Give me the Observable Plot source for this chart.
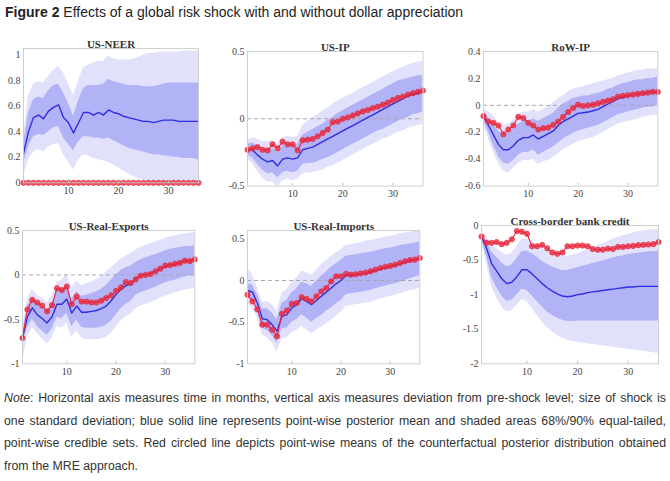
<!DOCTYPE html>
<html>
<head>
<meta charset="utf-8">
<script src="https://cdn.jsdelivr.net/npm/d3@7"></script>
<script src="https://cdn.jsdelivr.net/npm/@observablehq/plot@0.6"></script>
<style>
  html, body { margin: 0; padding: 0; background: #fff; }
  #wrap { position: relative; width: 670px; height: 481px; overflow: hidden; background: #fff; }
  #title { position: absolute; left: 5px; top: 2px; font-family: "Liberation Sans", Arial, sans-serif; font-size: 14px; line-height: 20px; color: #222; white-space: nowrap; }
  #note { position: absolute; left: 4px; top: 387px; width: 662px; font-family: "Liberation Sans", Arial, sans-serif; font-size: 12.3px; line-height: 22.6px; color: #333; }
  #note div { white-space: nowrap; text-align: justify; text-align-last: justify; }
  #note div.last { text-align-last: left; }
  #note span.lab { font-style: italic; }
  .panel { position: absolute; }
</style>
</head>
<body>
<div id="wrap">
  <div id="title"><b>Figure 2</b> Effects of a global risk shock with and without dollar appreciation</div>
  <div id="note">
    <div><span class="lab">Note</span>: Horizontal axis measures time in months, vertical axis measures deviation from pre-shock level; size of shock is</div>
    <div>one standard deviation; blue solid line represents point-wise posterior mean and shaded areas 68%/90% equal-tailed,</div>
    <div>point-wise credible sets. Red circled line depicts point-wise means of the counterfactual posterior distribution obtained</div>
    <div class="last">from the MRE approach.</div>
  </div>
</div>
<script>
const months = [1,2,3,4,5,6,7,8,9,10,11,12,13,14,15,16,17,18,19,20,21,22,23,24,25,26,27,28,29,30,31,32,33,34,35,36];

// US-NEER
const neerMean = [0.23,0.40,0.51,0.53,0.50,0.56,0.59,0.61,0.51,0.47,0.39,0.47,0.55,0.55,0.53,0.55,0.53,0.57,0.55,0.54,0.52,0.51,0.50,0.49,0.48,0.48,0.47,0.48,0.49,0.49,0.49,0.48,0.48,0.48,0.48,0.48];
const neerHi68 = [0.30,0.55,0.65,0.67,0.66,0.72,0.76,0.77,0.70,0.62,0.52,0.64,0.74,0.76,0.76,0.76,0.77,0.81,0.79,0.78,0.77,0.76,0.76,0.76,0.75,0.75,0.75,0.76,0.77,0.78,0.78,0.78,0.78,0.78,0.78,0.78];
const neerLo68 = [0.15,0.28,0.36,0.38,0.37,0.40,0.43,0.44,0.35,0.30,0.25,0.32,0.36,0.36,0.35,0.35,0.34,0.35,0.33,0.31,0.29,0.27,0.26,0.25,0.24,0.23,0.22,0.22,0.21,0.21,0.20,0.20,0.19,0.19,0.19,0.18];
const neerHi90 = [0.35,0.68,0.77,0.79,0.78,0.83,0.88,0.91,0.86,0.77,0.68,0.80,0.90,0.92,0.94,0.95,0.95,0.99,0.97,0.96,0.96,0.96,0.97,0.98,1.00,1.01,1.01,1.02,1.02,1.02,1.02,1.02,1.03,1.03,1.03,1.03];
const neerLo90 = [0.05,0.18,0.24,0.26,0.24,0.28,0.30,0.31,0.22,0.16,0.10,0.18,0.22,0.21,0.19,0.18,0.17,0.16,0.14,0.12,0.09,0.07,0.05,0.03,0.02,0.01,0.00,-0.01,-0.01,-0.02,-0.02,-0.03,-0.03,-0.04,-0.04,-0.05];
const neerCf   = [0,0,0,0,0,0,0,0,0,0,0,0,0,0,0,0,0,0,0,0,0,0,0,0,0,0,0,0,0,0,0,0,0,0,0,0];

// US-IP
const usipMean = [-0.23,-0.23,-0.27,-0.30,-0.32,-0.31,-0.35,-0.30,-0.29,-0.30,-0.29,-0.23,-0.22,-0.21,-0.19,-0.17,-0.15,-0.13,-0.11,-0.09,-0.07,-0.05,-0.03,-0.01,0.01,0.03,0.05,0.07,0.09,0.11,0.13,0.15,0.17,0.18,0.19,0.20];
const usipHi68 = [-0.19,-0.18,-0.20,-0.22,-0.23,-0.22,-0.25,-0.20,-0.19,-0.20,-0.19,-0.12,-0.10,-0.08,-0.06,-0.04,-0.01,0.01,0.04,0.06,0.08,0.10,0.12,0.14,0.16,0.18,0.20,0.22,0.24,0.26,0.28,0.29,0.30,0.31,0.32,0.32];
const usipLo68 = [-0.27,-0.29,-0.34,-0.38,-0.41,-0.40,-0.44,-0.40,-0.39,-0.40,-0.39,-0.34,-0.33,-0.33,-0.32,-0.30,-0.29,-0.27,-0.25,-0.23,-0.21,-0.19,-0.17,-0.15,-0.13,-0.11,-0.09,-0.08,-0.06,-0.04,-0.02,0.00,0.01,0.03,0.04,0.05];
const usipHi90 = [-0.16,-0.14,-0.15,-0.17,-0.17,-0.16,-0.19,-0.14,-0.13,-0.14,-0.13,-0.05,-0.02,0.01,0.03,0.06,0.08,0.11,0.13,0.15,0.17,0.19,0.21,0.23,0.25,0.27,0.29,0.31,0.33,0.35,0.37,0.38,0.40,0.41,0.42,0.43];
const usipLo90 = [-0.30,-0.33,-0.39,-0.44,-0.47,-0.47,-0.51,-0.46,-0.45,-0.46,-0.45,-0.41,-0.40,-0.40,-0.39,-0.38,-0.36,-0.35,-0.33,-0.31,-0.29,-0.27,-0.25,-0.23,-0.21,-0.19,-0.17,-0.15,-0.14,-0.12,-0.10,-0.09,-0.07,-0.06,-0.05,-0.04];
const usipCf   = [-0.23,-0.22,-0.21,-0.23,-0.235,-0.19,-0.22,-0.17,-0.19,-0.19,-0.235,-0.16,-0.155,-0.15,-0.13,-0.105,-0.08,-0.025,-0.02,0.00,0.01,0.025,0.04,0.055,0.065,0.08,0.09,0.105,0.12,0.14,0.155,0.165,0.18,0.19,0.20,0.21];

// RoW-IP
const rowMean = [-0.08,-0.15,-0.22,-0.29,-0.33,-0.33,-0.30,-0.26,-0.24,-0.24,-0.22,-0.25,-0.23,-0.21,-0.19,-0.15,-0.12,-0.10,-0.08,-0.06,-0.055,-0.05,-0.04,-0.03,-0.01,0.01,0.03,0.05,0.06,0.07,0.08,0.085,0.09,0.095,0.10,0.10];
const rowHi68 = [-0.05,-0.09,-0.14,-0.19,-0.22,-0.21,-0.18,-0.14,-0.12,-0.12,-0.10,-0.12,-0.10,-0.08,-0.06,-0.02,0.01,0.03,0.05,0.06,0.07,0.07,0.08,0.09,0.10,0.12,0.13,0.15,0.16,0.17,0.18,0.19,0.19,0.20,0.20,0.21];
const rowLo68 = [-0.11,-0.20,-0.30,-0.38,-0.43,-0.44,-0.41,-0.37,-0.35,-0.35,-0.33,-0.37,-0.35,-0.33,-0.31,-0.28,-0.25,-0.23,-0.21,-0.19,-0.18,-0.17,-0.16,-0.15,-0.13,-0.11,-0.09,-0.07,-0.06,-0.05,-0.04,-0.03,-0.02,-0.015,-0.01,0.00];
const rowHi90 = [-0.02,-0.05,-0.08,-0.13,-0.15,-0.14,-0.11,-0.07,-0.05,-0.05,-0.03,-0.05,-0.03,-0.01,0.02,0.05,0.07,0.10,0.12,0.13,0.14,0.15,0.16,0.17,0.18,0.19,0.20,0.22,0.23,0.24,0.25,0.26,0.26,0.27,0.27,0.27];
const rowLo90 = [-0.14,-0.25,-0.35,-0.43,-0.49,-0.50,-0.47,-0.43,-0.41,-0.41,-0.40,-0.44,-0.42,-0.41,-0.39,-0.36,-0.33,-0.31,-0.29,-0.27,-0.26,-0.25,-0.24,-0.22,-0.20,-0.18,-0.16,-0.14,-0.13,-0.12,-0.11,-0.10,-0.09,-0.08,-0.075,-0.07];
const rowCf   = [-0.08,-0.12,-0.13,-0.15,-0.215,-0.18,-0.15,-0.085,-0.095,-0.13,-0.15,-0.18,-0.17,-0.165,-0.145,-0.12,-0.085,-0.05,-0.02,0.005,-0.005,0.00,0.005,0.015,0.025,0.035,0.045,0.065,0.07,0.075,0.08,0.085,0.09,0.095,0.10,0.10];

// US-Real-Exports
const expMean = [-0.71,-0.47,-0.37,-0.45,-0.49,-0.54,-0.47,-0.33,-0.33,-0.27,-0.43,-0.35,-0.42,-0.42,-0.41,-0.40,-0.38,-0.35,-0.29,-0.22,-0.16,-0.12,-0.10,-0.04,-0.01,0.00,0.02,0.04,0.07,0.09,0.11,0.12,0.14,0.16,0.16,0.17];
const expHi68 = [-0.66,-0.35,-0.25,-0.32,-0.35,-0.40,-0.33,-0.18,-0.17,-0.11,-0.27,-0.19,-0.24,-0.23,-0.21,-0.19,-0.16,-0.12,-0.06,0.00,0.05,0.08,0.10,0.14,0.17,0.19,0.21,0.23,0.25,0.27,0.29,0.30,0.31,0.32,0.32,0.33];
const expLo68 = [-0.76,-0.60,-0.50,-0.58,-0.63,-0.68,-0.61,-0.48,-0.49,-0.43,-0.58,-0.51,-0.59,-0.60,-0.60,-0.60,-0.59,-0.57,-0.52,-0.45,-0.38,-0.33,-0.30,-0.23,-0.20,-0.18,-0.16,-0.14,-0.11,-0.09,-0.07,-0.06,-0.04,-0.02,-0.01,0.00];
const expHi90 = [-0.62,-0.27,-0.16,-0.23,-0.26,-0.31,-0.24,-0.08,-0.06,0.01,-0.15,-0.07,-0.12,-0.10,-0.08,-0.05,-0.02,0.03,0.08,0.13,0.18,0.21,0.24,0.28,0.31,0.33,0.35,0.37,0.39,0.41,0.43,0.44,0.45,0.46,0.47,0.48];
const expLo90 = [-0.98,-0.70,-0.59,-0.66,-0.72,-0.78,-0.71,-0.58,-0.60,-0.54,-0.70,-0.63,-0.71,-0.73,-0.73,-0.73,-0.72,-0.70,-0.66,-0.59,-0.52,-0.47,-0.44,-0.38,-0.35,-0.33,-0.31,-0.29,-0.26,-0.24,-0.22,-0.20,-0.19,-0.17,-0.16,-0.15];
const expCf   = [-0.71,-0.39,-0.28,-0.31,-0.345,-0.41,-0.34,-0.15,-0.17,-0.13,-0.33,-0.245,-0.30,-0.30,-0.31,-0.31,-0.29,-0.26,-0.23,-0.18,-0.14,-0.08,-0.09,-0.05,-0.01,0.00,0.01,0.04,0.07,0.105,0.11,0.125,0.135,0.16,0.155,0.175];

// US-Real-Imports
const impMean = [-0.12,-0.14,-0.27,-0.46,-0.47,-0.53,-0.61,-0.43,-0.41,-0.33,-0.29,-0.22,-0.25,-0.29,-0.24,-0.19,-0.14,-0.09,-0.04,0.00,0.06,0.06,0.07,0.08,0.09,0.10,0.12,0.14,0.15,0.17,0.18,0.20,0.22,0.24,0.25,0.26];
const impHi68 = [-0.04,-0.05,-0.17,-0.34,-0.34,-0.39,-0.47,-0.27,-0.24,-0.15,-0.10,-0.02,-0.04,-0.07,-0.01,0.05,0.10,0.16,0.20,0.24,0.29,0.30,0.31,0.32,0.33,0.34,0.35,0.37,0.38,0.39,0.40,0.42,0.43,0.44,0.45,0.46];
const impLo68 = [-0.20,-0.24,-0.37,-0.57,-0.60,-0.66,-0.75,-0.58,-0.57,-0.50,-0.47,-0.41,-0.45,-0.50,-0.46,-0.42,-0.37,-0.33,-0.28,-0.24,-0.17,-0.16,-0.15,-0.14,-0.13,-0.12,-0.10,-0.08,-0.07,-0.05,-0.04,-0.02,0.00,0.02,0.04,0.06];
const impHi90 = [0.15,0.07,-0.08,-0.26,-0.25,-0.29,-0.37,-0.15,-0.11,-0.02,0.03,0.11,0.10,0.06,0.12,0.19,0.24,0.29,0.33,0.37,0.42,0.43,0.44,0.45,0.47,0.48,0.49,0.51,0.52,0.53,0.54,0.56,0.57,0.58,0.59,0.60];
const impLo90 = [-0.27,-0.33,-0.45,-0.65,-0.69,-0.75,-0.86,-0.70,-0.69,-0.63,-0.60,-0.55,-0.59,-0.64,-0.60,-0.56,-0.52,-0.48,-0.43,-0.38,-0.31,-0.30,-0.29,-0.28,-0.27,-0.26,-0.24,-0.22,-0.21,-0.19,-0.18,-0.16,-0.14,-0.12,-0.11,-0.09];
const impCf   = [-0.17,-0.25,-0.345,-0.53,-0.53,-0.59,-0.67,-0.40,-0.36,-0.28,-0.27,-0.20,-0.22,-0.25,-0.19,-0.13,-0.09,-0.01,0.05,0.05,0.08,0.07,0.075,0.085,0.095,0.11,0.13,0.15,0.165,0.175,0.19,0.21,0.23,0.245,0.25,0.27];

// Cross-border bank credit
const cbcMean = [-0.16,-0.33,-0.55,-0.66,-0.77,-0.84,-0.82,-0.74,-0.64,-0.64,-0.70,-0.77,-0.84,-0.90,-0.95,-0.99,-1.02,-1.03,-1.02,-1.00,-0.99,-0.97,-0.96,-0.95,-0.94,-0.93,-0.92,-0.91,-0.90,-0.89,-0.89,-0.88,-0.88,-0.88,-0.88,-0.88];
const cbcHi68 = [-0.13,-0.22,-0.38,-0.46,-0.54,-0.60,-0.57,-0.48,-0.38,-0.37,-0.41,-0.46,-0.52,-0.56,-0.60,-0.63,-0.65,-0.65,-0.63,-0.61,-0.59,-0.57,-0.55,-0.53,-0.51,-0.49,-0.47,-0.45,-0.44,-0.42,-0.41,-0.40,-0.39,-0.38,-0.38,-0.37];
const cbcLo68 = [-0.20,-0.45,-0.75,-0.90,-1.02,-1.10,-1.08,-1.00,-0.92,-0.94,-1.02,-1.10,-1.18,-1.25,-1.30,-1.34,-1.37,-1.39,-1.39,-1.38,-1.38,-1.38,-1.38,-1.38,-1.38,-1.38,-1.38,-1.38,-1.38,-1.38,-1.38,-1.38,-1.38,-1.38,-1.38,-1.38];
const cbcHi90 = [-0.10,-0.15,-0.27,-0.33,-0.39,-0.43,-0.40,-0.30,-0.20,-0.19,-0.23,-0.28,-0.33,-0.37,-0.41,-0.43,-0.45,-0.45,-0.43,-0.41,-0.38,-0.35,-0.32,-0.29,-0.26,-0.23,-0.20,-0.17,-0.15,-0.13,-0.11,-0.09,-0.08,-0.07,-0.06,-0.06];
const cbcLo90 = [-0.22,-0.55,-0.88,-1.05,-1.18,-1.25,-1.23,-1.15,-1.07,-1.10,-1.20,-1.30,-1.40,-1.48,-1.54,-1.59,-1.63,-1.66,-1.68,-1.69,-1.70,-1.71,-1.72,-1.73,-1.74,-1.75,-1.76,-1.77,-1.78,-1.79,-1.80,-1.81,-1.82,-1.83,-1.84,-1.85];
const cbcCf   = [-0.16,-0.25,-0.25,-0.24,-0.27,-0.25,-0.20,-0.08,-0.09,-0.12,-0.30,-0.30,-0.28,-0.33,-0.39,-0.41,-0.39,-0.30,-0.30,-0.29,-0.29,-0.30,-0.34,-0.35,-0.35,-0.335,-0.34,-0.31,-0.31,-0.30,-0.295,-0.285,-0.28,-0.275,-0.27,-0.24];

const xTicks = [10, 20, 30];

const panels = [
  {title: "US-NEER", yDomain: [0, 1.05], yTicks: [0, 0.2, 0.4, 0.6, 0.8, 1],
   mean: neerMean, hi68: neerHi68, lo68: neerLo68, hi90: neerHi90, lo90: neerLo90, cf: neerCf,
   L: 22.7, R: 197.7, T: 48, B: 182.3},
  {title: "US-IP", yDomain: [-0.5, 0.5], yTicks: [-0.5, 0, 0.5],
   mean: usipMean, hi68: usipHi68, lo68: usipLo68, hi90: usipHi90, lo90: usipLo90, cf: usipCf,
   L: 247, R: 422.5, T: 50.7, B: 185.3},
  {title: "RoW-IP", yDomain: [-0.6, 0.4], yTicks: [-0.6, -0.4, -0.2, 0, 0.2, 0.4],
   mean: rowMean, hi68: rowHi68, lo68: rowLo68, hi90: rowHi90, lo90: rowLo90, cf: rowCf,
   L: 482.7, R: 657, T: 50.7, B: 185.3},
  {title: "US-Real-Exports", yDomain: [-1, 0.5], yTicks: [-1, -0.5, 0, 0.5],
   mean: expMean, hi68: expHi68, lo68: expLo68, hi90: expHi90, lo90: expLo90, cf: expCf,
   L: 22, R: 194.3, T: 230, B: 363.3},
  {title: "US-Real-Imports", yDomain: [-1, 0.6], yTicks: [-1, -0.5, 0, 0.5],
   mean: impMean, hi68: impHi68, lo68: impLo68, hi90: impHi90, lo90: impLo90, cf: impCf,
   L: 247, R: 419.3, T: 230, B: 363.3},
  {title: "Cross-border bank credit", yDomain: [-2, 0], yTicks: [-2, -1.5, -1, -0.5, 0],
   mean: cbcMean, hi68: cbcHi68, lo68: cbcLo68, hi90: cbcHi90, lo90: cbcLo90, cf: cbcCf,
   L: 480.7, R: 657.7, T: 225, B: 363.3}
];

const lightBand = "#e1e1fc";
const darkBand = "#b2b2f6";
const blue = "#2e2ee4";
const red = "#e8283c";

const ml = 40, mr = 10, mt = 22, mb = 22;
const wrap = document.getElementById("wrap");

for (const p of panels) {
  const data = months.map((t, i) => ({
    t, m: p.mean[i], hi68: p.hi68[i], lo68: p.lo68[i], hi90: p.hi90[i], lo90: p.lo90[i], cf: p.cf[i]
  }));
  const y0 = p.yDomain[0];
  const tickLen = (p.yDomain[1] - p.yDomain[0]) * 0.02;
  const chart = Plot.plot({
    width: (p.R - p.L) + ml + mr,
    height: (p.B - p.T) + mt + mb,
    marginLeft: ml, marginRight: mr, marginTop: mt, marginBottom: mb,
    style: {fontFamily: "'Liberation Serif', 'Times New Roman', serif", fontSize: "10px", color: "#444", background: "transparent", overflow: "visible"},
    x: {domain: [1, 36], ticks: xTicks, tickSize: 0, tickPadding: 4, label: null, tickFormat: d => String(d)},
    y: {domain: p.yDomain, ticks: p.yTicks, tickSize: 0, tickPadding: 3, label: null, tickFormat: d => String(d)},
    marks: [
      Plot.areaY(data, {x: "t", y1: "lo90", y2: "hi90", fill: lightBand, clip: true}),
      Plot.areaY(data, {x: "t", y1: "lo68", y2: "hi68", fill: darkBand, clip: true}),
      Plot.ruleY([0], {stroke: "#a8a8a8", strokeWidth: 1, strokeDasharray: "4,3"}),
      Plot.line(data, {x: "t", y: "m", stroke: blue, strokeWidth: 1.4, clip: true}),
      Plot.line(data, {x: "t", y: "cf", stroke: red, strokeWidth: 1.1}),
      Plot.dot(data, {x: "t", y: "cf", r: 2.6, fill: red, fillOpacity: 0.75, stroke: red, strokeWidth: 0.8}),
      Plot.frame({stroke: "#cfcfcf", strokeWidth: 1}),
      Plot.ruleX(xTicks, {x: d => d, y1: y0, y2: y0 + tickLen, stroke: "#c4c4c4"}),
      Plot.text([p.title], {text: d => d, frameAnchor: "top", dy: -8, fontSize: 11, fontWeight: "bold", fill: "#333"})
    ]
  });
  chart.classList.add("panel");
  chart.style.left = (p.L - ml) + "px";
  chart.style.top = (p.T - mt) + "px";
  wrap.appendChild(chart);
}
</script>
</body>
</html>
